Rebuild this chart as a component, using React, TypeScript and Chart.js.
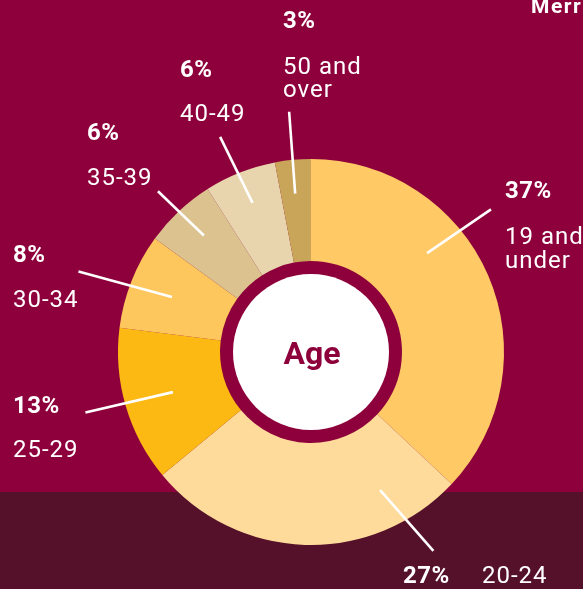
import React, { useEffect, useRef } from "react";
import { Chart, registerables } from "chart.js";

Chart.register(...registerables);

const CATEGORIES = ["19 and under", "20-24", "25-29", "30-34", "35-39", "40-49", "50 and over"];
const VALUES = [37, 27, 13, 8, 6, 6, 3];
const PERCENT_LABELS = VALUES.map((v) => `${v}%`);
const CATEGORY_LINES = [["19 and", "under"], ["20-24"], ["25-29"], ["30-34"], ["35-39"], ["40-49"], ["50 and", "over"]];
const COLORS = ["#FFC966", "#FEDB9A", "#FDB913", "#FEC75D", "#DBC28E", "#E8D5AE", "#C9A55A"];
const CENTER_TITLE = "Age";
const CORNER_TEXT = "Merri";

const MAROON = "#8E003B";
const DARK_BAND = "#55102A";

// layout of label text (offsets from the doughnut centre) and leader lines
// leader: [angleOffset1(deg), radius1 ratio, angleOffset2(deg), radius2 ratio] relative to slice mid-angle
const LABEL_LAYOUT = [
  { pct: [194, -154], lines: [[194, -108], [194, -84]], leader: [-17, 0.79, -15, 1.19] },
  { pct: [92, 231], lines: [[171, 231]], leader: [-28.4, 0.8, -33.4, 1.21] },
  { pct: [-298, 61], lines: [[-298, 105]], leader: [0, 0.745, 1.2, 1.21] },
  { pct: [-298, -90], lines: [[-298, -45]], leader: [0, 0.775, -2.5, 1.275] },
  { pct: [-224, -212], lines: [[-224, -167]], leader: [0.6, 0.82, -0.4, 1.15] },
  { pct: [-131, -275], lines: [[-131, -231]], leader: [0.2, 0.83, -1.3, 1.21] },
  { pct: [-28, -324], lines: [[-28, -278], [-28, -255]], leader: [-0.3, 0.825, 0.2, 1.25] },
];

const bgPlugin = {
  id: "bg",
  beforeDraw(chart: any) {
    const { ctx, width, height } = chart;
    ctx.save();
    ctx.fillStyle = MAROON;
    ctx.fillRect(0, 0, width, height);
    ctx.fillStyle = DARK_BAND;
    ctx.fillRect(0, 492, width, height - 492);
    ctx.restore();
  },
};

const labelsPlugin = {
  id: "labels",
  afterDatasetsDraw(chart: any) {
    const { ctx } = chart;
    const meta = chart.getDatasetMeta(0);
    const arcs = meta.data;
    if (!arcs.length) return;
    const cx = arcs[0].x;
    const cy = arcs[0].y;
    const R = arcs[0].outerRadius;
    const inner = arcs[0].innerRadius;
    ctx.save();
    // centre white disc
    ctx.fillStyle = "#FFFFFF";
    ctx.beginPath();
    ctx.arc(cx, cy, inner - 13, 0, Math.PI * 2);
    ctx.fill();
    ctx.fillStyle = MAROON;
    ctx.font = "bold 32px Roboto";
    ctx.textAlign = "center";
    ctx.textBaseline = "alphabetic";
    ctx.fillText(CENTER_TITLE, cx + 1, cy + 12);

    ctx.textAlign = "left";
    ctx.strokeStyle = "#FFFFFF";
    ctx.lineWidth = 2.6;
    arcs.forEach((arc: any, i: number) => {
      const lay = LABEL_LAYOUT[i];
      const mid = (arc.startAngle + arc.endAngle) / 2;
      const [o1, r1, o2, r2] = lay.leader;
      const a1 = mid + (o1 * Math.PI) / 180;
      const a2 = mid + (o2 * Math.PI) / 180;
      ctx.beginPath();
      ctx.moveTo(cx + Math.cos(a1) * R * r1, cy + Math.sin(a1) * R * r1);
      ctx.lineTo(cx + Math.cos(a2) * R * r2, cy + Math.sin(a2) * R * r2);
      ctx.stroke();

      ctx.fillStyle = "#FFFFFF";
      ctx.font = "bold 24px Roboto";
      (ctx as any).letterSpacing = "0.5px";
      ctx.fillText(PERCENT_LABELS[i], cx + lay.pct[0], cy + lay.pct[1]);
      ctx.font = "24px Roboto";
      (ctx as any).letterSpacing = "1px";
      CATEGORY_LINES[i].forEach((t, j) => {
        const p = lay.lines[j];
        ctx.fillText(t, cx + p[0], cy + p[1]);
      });
    });
    (ctx as any).letterSpacing = "1.5px";
    ctx.font = "bold 21px Roboto";
    ctx.fillText(CORNER_TEXT, 531, 13);
    ctx.restore();
  },
};

export default function App() {
  const ref = useRef<HTMLCanvasElement>(null);
  useEffect(() => {
    if (!ref.current) return;
    const chart = new Chart(ref.current, {
      type: "doughnut",
      data: {
        labels: CATEGORIES,
        datasets: [
          {
            data: VALUES,
            backgroundColor: COLORS,
            borderWidth: 0,
          },
        ],
      },
      options: {
        animation: false,
        responsive: true,
        maintainAspectRatio: false,
        cutout: 91,
        layout: { padding: { left: 118, right: 79, top: 159, bottom: 44 } },
        plugins: { legend: { display: false }, tooltip: { enabled: false } },
      },
      plugins: [bgPlugin, labelsPlugin],
    });
    return () => chart.destroy();
  }, []);
  return (
    <div style={{ position: "fixed", left: 0, top: 0, width: 583, height: 589 }}>
      <canvas ref={ref} />
    </div>
  );
}
